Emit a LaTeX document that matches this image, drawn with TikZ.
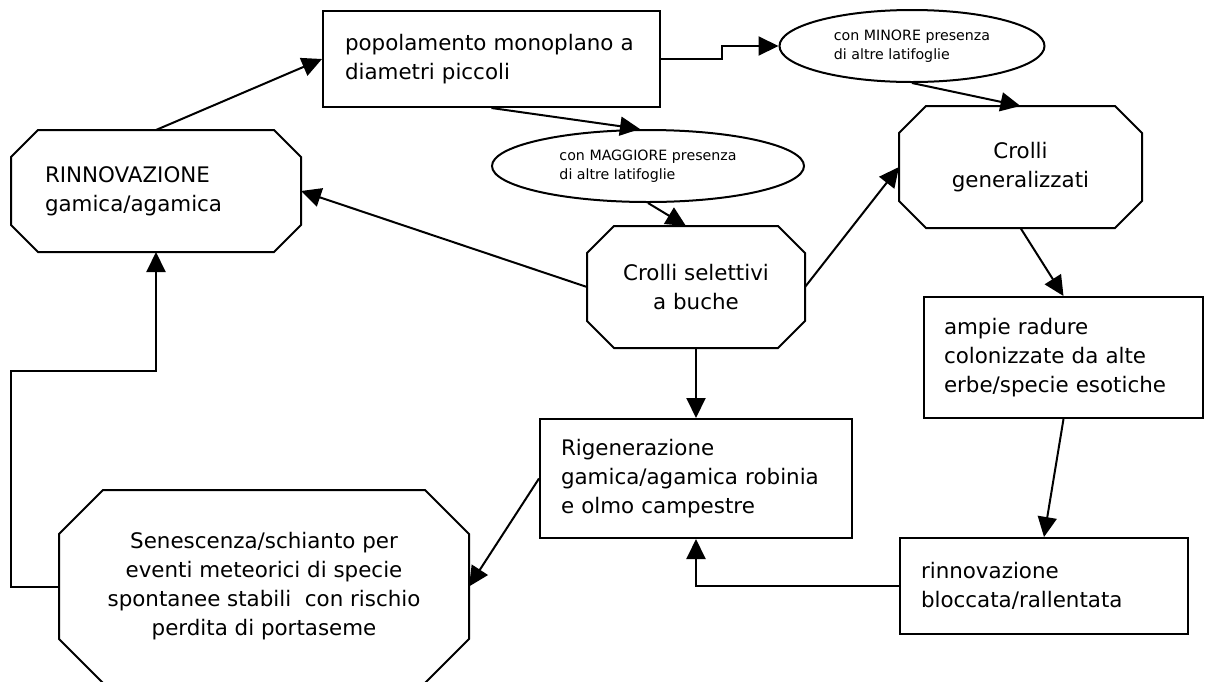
\documentclass[tikz,border=0pt]{standalone}
\usepackage{fontspec}
\setmainfont{DejaVu Sans}
\usetikzlibrary{arrows.meta,positioning,shapes.geometric}

\newcommand{\bigtxt}{\fontsize{10.7}{14.5}\selectfont}
\newcommand{\smalltxt}{\fontsize{7.1}{9.5}\selectfont}
% octagonal frame round a (borderless) rectangle node
\newcommand{\octframe}[2]{%
  \draw ([xshift=#2]#1.north west) -- ([xshift=-#2]#1.north east)
     -- ([yshift=-#2]#1.north east) -- ([yshift=#2]#1.south east)
     -- ([xshift=-#2]#1.south east) -- ([xshift=#2]#1.south west)
     -- ([yshift=#2]#1.south west) -- ([yshift=-#2]#1.north west) -- cycle;}

\begin{document}
\begin{tikzpicture}[x=0.5pt,y=-0.5pt,line width=1pt,
    box/.style={draw,rectangle,inner xsep=0pt,align=left,font=\bigtxt},
    oct/.style={rectangle,inner sep=0pt,font=\bigtxt},
    oval/.style={draw,ellipse,inner sep=0pt,align=left,font=\smalltxt},
    arr/.style={-{Triangle[length=10pt,width=9.5pt]}}]
    \useasboundingbox (0,0) rectangle (1205,681);  % page size

    % Boxes and ovals
    \node[box,minimum width=168.5pt,minimum height=48pt,text width=146.5pt]
        (pop) at (491.5,59) {popolamento monoplano a\\diametri piccoli};
    \node[oval,minimum width=132.5pt,minimum height=36pt]
        (min) at (912,46) {con MINORE presenza\\di altre latifoglie};
    \node[oval,minimum width=156pt,minimum height=36pt]
        (mag) at (648,166) {con MAGGIORE presenza\\di altre latifoglie};
    \node[box,minimum width=139.5pt,minimum height=60.5pt,text width=119.5pt]
        (amp) at (1063.5,357.5) {ampie radure\\colonizzate da alte\\erbe/specie esotiche};
    \node[box,minimum width=144pt,minimum height=48pt,text width=123pt]
        (blo) at (1044,586) {rinnovazione\\bloccata/rallentata};
    \node[box,minimum width=156pt,minimum height=59.5pt,text width=135pt]
        (rig) at (696,478.5) {Rigenerazione\\gamica/agamica robinia\\e olmo campestre};

    % Octagons
    \node[oct,minimum width=144pt,minimum height=60pt,text width=111pt,align=left]
        (ren) at (156,191) {RINNOVAZIONE\\gamica/agamica};
    \node[oct,minimum width=108pt,minimum height=60pt,align=center]
        (sel) at (696,287) {Crolli selettivi\\a buche};
    \node[oct,minimum width=120.5pt,minimum height=60pt,align=center]
        (gen) at (1020.5,167) {Crolli\\generalizzati};
    \node[oct,minimum width=204pt,minimum height=95.5pt,align=center]
        (sen) at (264,586.5) {Senescenza/schianto per\\eventi meteorici di specie\\spontanee stabili~ con rischio\\perdita di portaseme};
    \octframe{ren}{13.5pt}
    \octframe{sel}{13.5pt}
    \octframe{gen}{13.5pt}
    \octframe{sen}{22pt}

    % Connectors
    \draw[arr] (ren.north) -- (pop.west);
    \draw[arr] (pop.east) -- ++(61,0) |- (min.west);
    \draw[arr] (pop.south) -- ([xshift=-4pt]mag.north);
    \draw[arr] (mag.south) -- ([xshift=-5pt]sel.north);
    \draw[arr] (min.south) -- (gen.north);
    \draw[arr] (sel.west) -- (ren.east);
    \draw[arr] (sel.east) -- (gen.west);
    \draw[arr] (gen.south) -- (amp.north);
    \draw[arr] (amp.south) -- (blo.north);
    \draw[arr] (sel.south) -- (rig.north);
    \draw[arr] (blo.west) -| (rig.south);
    \draw[arr] (rig.west) -- (sen.east);
    \draw[arr] (sen.west) -- ++(-48,0) -- ++(0,-216) -| (ren.south);
\end{tikzpicture}
\end{document}
